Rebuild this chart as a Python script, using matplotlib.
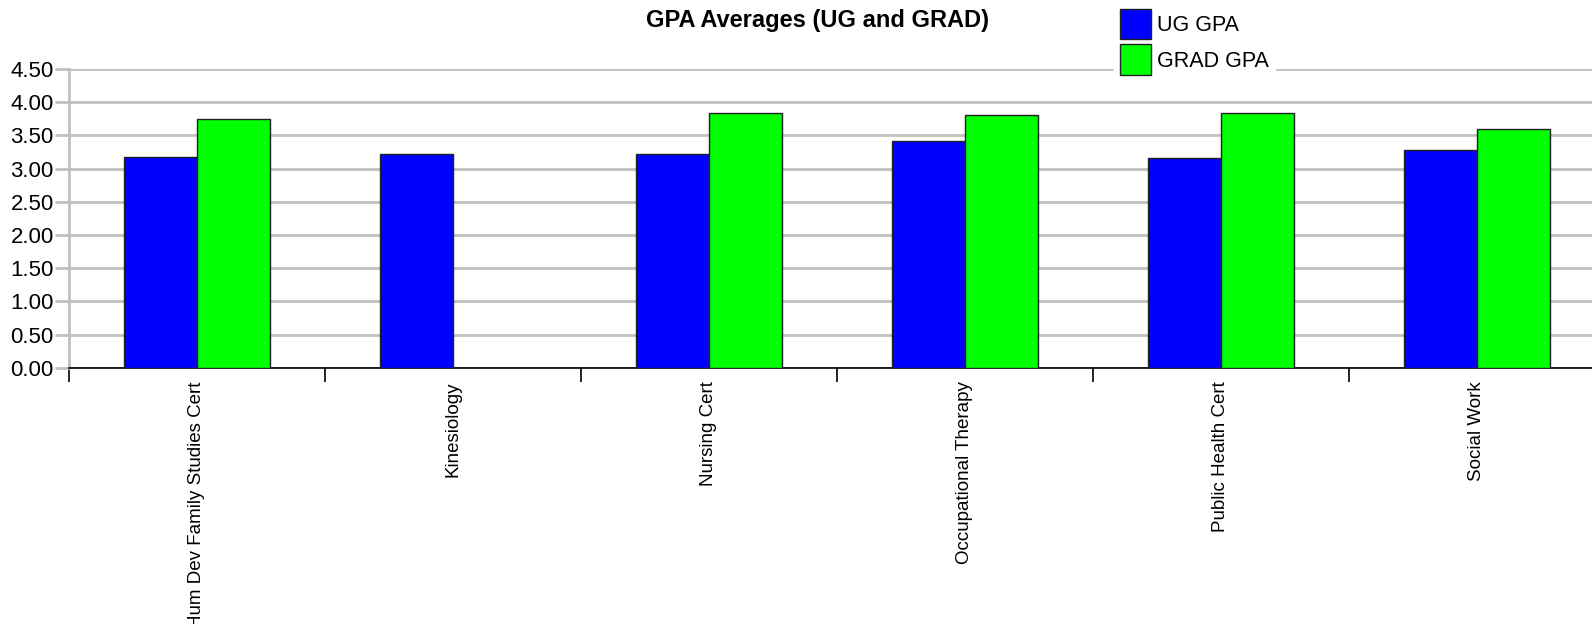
import numpy as np
import matplotlib.pyplot as plt
from matplotlib.patches import Rectangle

plt.rcParams['font.family'] = ['Liberation Sans', 'DejaVu Sans']

# data
programs = ["Hum Dev Family Studies Cert", "Kinesiology", "Nursing Cert",
            "Occupational Therapy", "Public Health Cert", "Social Work"]
ug_gpa = [3.17, 3.22, 3.22, 3.42, 3.16, 3.28]
grad_gpa = [3.75, np.nan, 3.83, 3.81, 3.84, 3.59]
yticks = [0.0, 0.5, 1.0, 1.5, 2.0, 2.5, 3.0, 3.5, 4.0, 4.5]

fig = plt.figure(figsize=(15.92, 6.24), dpi=100)
# axis runs past the right edge, like in the original
ax = fig.add_axes([69/1592, 1 - 367.7/624, 1536/1592, (367.7 - 69)/624])

x = np.arange(len(programs))
w = 0.286
ax.bar(x - w/2, ug_gpa, w, color='#0000ff', edgecolor='#222222', linewidth=1.0, zorder=3)
ax.bar(x + w/2, grad_gpa, w, color='#00ff00', edgecolor='#222222', linewidth=1.0, zorder=3)

ax.set_xlim(-0.5, len(programs) - 0.5)
ax.set_ylim(0, 4.5)
ax.set_yticks(yticks)
ax.set_yticklabels(["%.2f" % v for v in yticks], fontsize=16)
ax.yaxis.grid(True, color='#c0c0c0', linewidth=2, zorder=0)
ax.set_axisbelow(True)
ax.tick_params(axis='y', length=10, width=2, color='#c0c0c0', pad=1)

ax.set_xticks(x)
ax.set_xticklabels(programs, rotation=90, fontsize=13.5, va='top')
ax.set_xticks(np.arange(len(programs) + 1) - 0.5, minor=True)
ax.tick_params(axis='x', which='major', length=0, pad=10)
ax.tick_params(axis='x', which='minor', length=10, width=1.2, color='black')

for s in ['top', 'right']:
    ax.spines[s].set_visible(False)
ax.spines['left'].set_color('#c0c0c0')
ax.spines['left'].set_linewidth(2)
ax.spines['bottom'].set_color('black')
ax.spines['bottom'].set_linewidth(1.2)

fig.text(818/1592, 1 - 20/624, "GPA Averages (UG and GRAD)", ha='center', va='center',
         fontsize=17, fontweight='bold')

handles = [Rectangle((0, 0), 1, 1, facecolor='#0000ff', edgecolor='#222222', linewidth=1.0),
           Rectangle((0, 0), 1, 1, facecolor='#00ff00', edgecolor='#222222', linewidth=1.0)]
leg = fig.legend(handles, ["UG GPA", "GRAD GPA"], loc='upper left',
                 bbox_to_anchor=(1114/1592, 1 - 3/624), fontsize=15.5,
                 handlelength=1.42, handleheight=1.8, handletextpad=0.28,
                 labelspacing=0.23, borderpad=0.28, borderaxespad=0,
                 frameon=True, fancybox=False, facecolor='white',
                 edgecolor='white', framealpha=1)
leg.set_zorder(10)

fig.savefig('out.png', dpi=100)
